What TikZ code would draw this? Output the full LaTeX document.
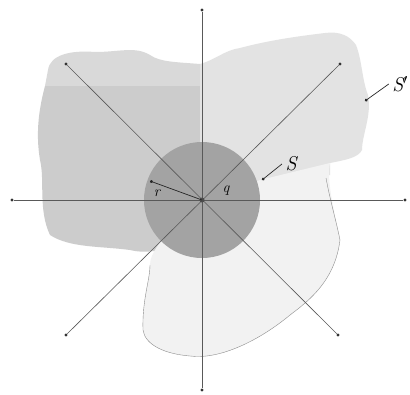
\documentclass[tikz,border=0pt]{standalone}
\usetikzlibrary{arrows.meta}
\begin{document}
\begin{tikzpicture}[x=1pt,y=-1pt,
  axis/.style={draw=black!65, line width=0.6pt},
  enddot/.style={circle, fill=black!80, inner sep=0pt, minimum size=3.2pt},
  lbl/.style={font=\fontsize{20}{22}\selectfont\itshape},
  slbl/.style={font=\fontsize{15}{17}\selectfont\itshape},
  ptr/.style={draw=black!85, line width=0.7pt, -{Circle[length=3pt]}}]
\useasboundingbox (0,0) rectangle (410,394);
\fill[white] (0,0) rectangle (410,394);
% light upper part of the left region
\fill[black!15] (48,70) .. controls (50,55) and (70,50) .. (95,52)
  .. controls (120,52) and (135,46) .. (150,55)
  .. controls (160,62) and (175,62) .. (200,64)
  -- (200,86) -- (45,86) -- cycle;
% left region
\fill[black!20] (45,86) -- (200,86) -- (200,240)
  .. controls (170,248) and (150,255) .. (130,250)
  .. controls (100,246) and (70,248) .. (50,235)
  .. controls (38,210) and (45,180) .. (40,160)
  .. controls (35,130) and (40,105) .. (45,86) -- cycle;
% right region
\fill[black!11] (200,64) .. controls (215,60) and (225,50) .. (240,48)
  .. controls (270,40) and (300,36) .. (325,33)
  .. controls (340,31) and (350,36) .. (356,45)
  .. controls (362,60) and (362,80) .. (368,95)
  .. controls (372,115) and (362,135) .. (362,150)
  .. controls (358,158) and (345,160) .. (330,163)
  -- (330,175) -- (200,200) -- cycle;
% lower outlined region
\fill[black!5] (330,163) .. controls (326,180) and (335,215) .. (340,240)
  .. controls (335,280) and (310,300) .. (290,315)
  .. controls (260,340) and (220,360) .. (190,356)
  .. controls (165,354) and (145,345) .. (143,330)
  .. controls (142,300) and (150,280) .. (150,265)
  .. controls (150,240) and (200,210) .. (200,200) -- (260,180) -- cycle;
\draw[black!45, line width=0.4pt] (326,178) .. controls (330,200) and (336,220) .. (340,240)
  .. controls (335,280) and (310,300) .. (290,315)
  .. controls (260,340) and (220,360) .. (190,356)
  .. controls (165,354) and (145,345) .. (143,330)
  .. controls (142,300) and (150,280) .. (150,265);
% disk
\fill[black!36] (202,200) circle[radius=58];
% axes
\coordinate (O) at (202,200);
\node[enddot] (top) at (202,10) {};
\node[enddot] (bot) at (202,390) {};
\node[enddot] (lft) at (12,200) {};
\node[enddot] (rgt) at (405,200) {};
\node[enddot] (ul) at (66,64) {};
\node[enddot] (ur) at (340,64) {};
\node[enddot] (ll) at (66,335) {};
\node[enddot] (lr) at (338,335) {};
\draw[axis] (top) -- (bot);
\draw[axis] (lft) -- (rgt);
\draw[axis] (ul) -- (lr);
\draw[axis] (ur) -- (ll);
\fill[black!70] (O) circle[radius=2.5];
% labels
\node[slbl] (r) at (157,193) {r};
\node[slbl] (q) at (226,191) {q};
\coordinate (rtip) at (150,181);
\draw[ptr] (O) -- (rtip);
\node[lbl] (S) at (291,164) {S};
\coordinate (Stip) at (262,180);
\draw[ptr] (S.west) -- (Stip);
\node[lbl] (Sp) at (400,84) {S$'$};
\coordinate (Sptip) at (365,101);
\draw[ptr] (Sp.west) -- (Sptip);
\end{tikzpicture}
\end{document}
